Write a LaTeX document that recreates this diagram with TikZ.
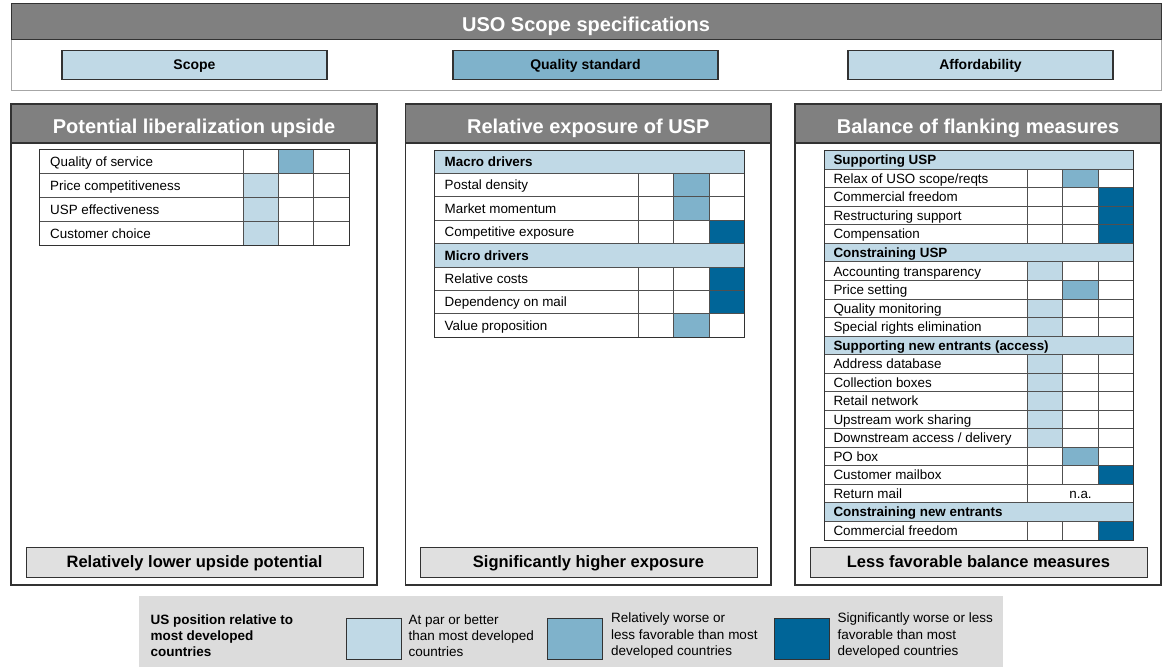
\documentclass[tikz,border=0pt]{standalone}
\usepackage{fontspec}
\setmainfont{Liberation Sans}
\definecolor{lb}{RGB}{192,217,230}
\definecolor{mb}{RGB}{127,178,203}
\definecolor{db}{RGB}{0,101,152}
\definecolor{hg}{RGB}{128,128,128}
\definecolor{fg}{RGB}{224,224,224}
\definecolor{lg}{RGB}{220,220,220}
\definecolor{ln}{RGB}{50,50,50}
\definecolor{gl}{RGB}{80,80,80}
\tikzset{
  body/.style={font=\fontsize{13.4}{16}\selectfont, inner sep=0pt, text height=9.6pt, text depth=0pt},
  hdrtext/.style={font=\bfseries\fontsize{13.4}{16}\selectfont, inner sep=0pt, text height=9.6pt, text depth=0pt},
  gridline/.style={draw=gl, line width=1pt},
  panelbox/.style={draw=ln, line width=1.2pt, fill=white},
  headfill/.style={fill=hg, draw=ln, line width=1.2pt},
  headtext/.style={text=white, font=\bfseries\fontsize{20}{24}\selectfont, inner sep=0pt, text height=14.3pt, text depth=0pt},
  topbtn/.style={draw=ln, line width=1.2pt, font=\bfseries\fontsize{14}{17}\selectfont, inner sep=0pt, minimum width=265pt, minimum height=29pt, text height=10pt, text depth=0pt},
  footbox/.style={draw=ln, line width=1pt, fill=fg, font=\bfseries\fontsize{16.5}{20}\selectfont, inner sep=0pt, minimum width=337pt, minimum height=30pt, text height=11.8pt, text depth=0pt},
  legtext/.style={font=\fontsize{13.5}{16.3}\selectfont, inner sep=0pt, align=left, anchor=west},
  swatch/.style={draw=ln, line width=1pt, minimum width=55pt, minimum height=41pt, inner sep=0pt},
}
% #1 prefix, #2 left, #3 first value column, #4 right, #5 top, #6 row height, #7 text inset, #8 bottom, #9 rows
\newcommand\mytable[9]{%
  \foreach \v/\lab [count=\i from 0] in {#9}{%
    \pgfmathsetmacro\ya{#5+\i*#6}%
    \pgfmathsetmacro\yb{\ya+#6}%
    \pgfmathsetmacro\ym{\ya+#6/2}%
    \pgfmathsetmacro\cw{(#4-#3)/3}%
    \ifnum\v<0
      \fill[lb] (#2,\ya) rectangle (#4,\yb);
      \node[hdrtext, anchor=west] (#1-\i) at (#2+#7,\ym) {\lab};
    \else
      \ifnum\v>0 \ifnum\v<4
        \ifcase\v\or\def\cc{lb}\or\def\cc{mb}\or\def\cc{db}\fi
        \fill[\cc] (#3+\v*\cw-\cw,\ya) rectangle (#3+\v*\cw,\yb);
      \fi\fi
      \node[body, anchor=west] (#1-\i) at (#2+#7,\ym) {\lab};
      \draw[gridline] (#3,\ya) -- (#3,\yb);
      \ifnum\v=4
        \node[body] (#1-\i-na) at (#3+1.5*\cw,\ym) {n.a.};
      \else
        \draw[gridline] (#3+\cw,\ya) -- (#3+\cw,\yb);
        \draw[gridline] (#3+2*\cw,\ya) -- (#3+2*\cw,\yb);
      \fi
    \fi
    \draw[gridline] (#2,\ya) -- (#4,\ya);
  }%
  \draw[draw=ln, line width=1pt] (#2,#5) rectangle (#4,#8);
}
\begin{document}
\begin{tikzpicture}[x=1pt,y=-1pt]
\useasboundingbox (0,0) rectangle (1167,667);

% ---- top section
\draw[draw=gray!70, line width=1pt, fill=white] (11,39) rectangle (1161,90);
\draw[fill=hg, draw=ln, line width=0.8pt] (11,3.3) rectangle (1161,39);
\node[headtext] (title) at (586,24.5) {USO Scope specifications};
\node[topbtn, fill=lb] (scope) at (194.5,64.7) {Scope};
\node[topbtn, fill=mb] (quality) at (585.5,64.7) {Quality standard};
\node[topbtn, fill=lb] (afford) at (980.5,64.7) {Affordability};

% ---- panels
\draw[panelbox] (11,104) rectangle (377,585);
\draw[panelbox] (405.5,104) rectangle (771,585);
\draw[panelbox] (795,104) rectangle (1161,585);
\draw[headfill] (11,104) rectangle (377,143);
\draw[headfill] (405.5,104) rectangle (771,143);
\draw[headfill] (795,104) rectangle (1161,143);
\node[headtext] (ph1) at (194,126.5) {Potential liberalization upside};
\node[headtext] (ph2) at (588.25,126.5) {Relative exposure of USP};
\node[headtext] (ph3) at (978,126.5) {Balance of flanking measures};

% ---- tables
\mytable{L}{39.5}{243.3}{349.3}{149.3}{24.1}{10.5}{245.7}{%
  2/Quality of service, 1/Price competitiveness, 1/USP effectiveness, 1/Customer choice}

\mytable{M}{434.7}{638.7}{744.3}{150}{23.4}{9.8}{337.2}{%
  -1/Macro drivers, 2/Postal density, 2/Market momentum, 3/Competitive exposure,
  -1/Micro drivers, 3/Relative costs, 3/Dependency on mail, 2/Value proposition}

\mytable{R}{824.3}{1027.7}{1133.3}{150.7}{18.538}{9}{540}{%
  -1/Supporting USP, 2/{Relax of USO scope/reqts}, 3/Commercial freedom, 3/Restructuring support, 3/Compensation,
  -1/Constraining USP, 1/Accounting transparency, 2/Price setting, 1/Quality monitoring, 1/Special rights elimination,
  -1/Supporting new entrants (access), 1/Address database, 1/Collection boxes, 1/Retail network, 1/Upstream work sharing,
  1/{Downstream access / delivery}, 2/PO box, 3/Customer mailbox, 4/Return mail,
  -1/Constraining new entrants, 3/Commercial freedom}

% ---- footers
\node[footbox] (f1) at (194.5,562) {Relatively lower upside potential};
\node[footbox] (f2) at (588.5,562) {Significantly higher exposure};
\node[footbox] (f3) at (978.5,562) {Less favorable balance measures};

% ---- legend
\fill[lg] (139,596) rectangle (1003,667);
\node[legtext, font=\bfseries\fontsize{13.5}{16.3}\selectfont] (legtitle) at (150.5,635.5) {US position relative to\\most developed\\countries};
\node[swatch, fill=lb] (sw1) at (373.5,638.5) {};
\node[legtext] (lt1) at (408.3,635.5) {At par or better\\than most developed\\countries};
\node[swatch, fill=mb] (sw2) at (574.5,638.5) {};
\node[legtext] (lt2) at (611,635.5) {Relatively worse or\\less favorable than most\\developed countries};
\node[swatch, fill=db] (sw3) at (801.5,638.5) {};
\node[legtext] (lt3) at (837.3,635.5) {Significantly worse or less\\favorable than most\\developed countries};
\end{tikzpicture}
\end{document}
